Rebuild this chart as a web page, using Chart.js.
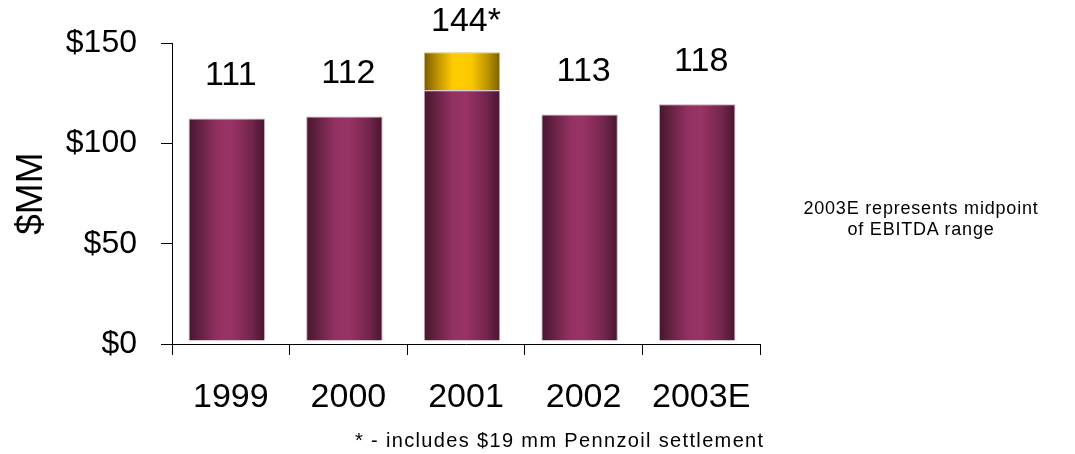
<!DOCTYPE html>
<html>
<head>
<meta charset="utf-8">
<script src="https://cdn.jsdelivr.net/npm/chart.js@4/dist/chart.umd.min.js"></script>
<style>
  html, body { margin: 0; padding: 0; background: #ffffff; }
  #wrap { position: relative; width: 1075px; height: 454px; overflow: hidden; font-family: "Liberation Sans", Arial, sans-serif; }
  #c { position: absolute; left: 0; top: 0; }
  .note { position: absolute; color: #000; white-space: nowrap; }
  #side { left: 790px; top: 198px; width: 262px; text-align: center; font-size: 18px; line-height: 21px; letter-spacing: 0.8px; }
  #foot { left: 355px; top: 430px; font-size: 20px; line-height: 20px; letter-spacing: 1.35px; }
</style>
</head>
<body>
<div id="wrap">
  <canvas id="c" width="1075" height="454"></canvas>
  <div class="note" id="side">2003E represents midpoint<br>of EBITDA range</div>
  <div class="note" id="foot">* - includes $19 mm Pennzoil settlement</div>
</div>
<script>
// ---- data ----
const categories = ["1999", "2000", "2001", "2002", "2003E"];
const baseEbitda = [111, 112, 125, 113, 118];
const settlement = [0, 0, 19, 0, 0];
const totalLabels = ["111", "112", "144*", "113", "118"];
const yTickValues = [0, 50, 100, 150];
const yAxisTitle = "$MM";

const FONT = "'Liberation Sans', Arial, sans-serif";
const BAR_PCT = 0.65;

function gradientFill(stops, fallback) {
  return function (c) {
    const chart = c.chart;
    const area = chart.chartArea;
    const xs = chart.scales && chart.scales.x;
    if (!area || !xs) return fallback;
    const xc = xs.getPixelForValue(c.dataIndex);
    const w = (xs.width / categories.length) * BAR_PCT;
    const g = chart.ctx.createLinearGradient(xc - w / 2, 0, xc + w / 2, 0);
    stops.forEach(s => g.addColorStop(s[0], s[1]));
    return g;
  };
}

const maroonStops = [[0, '#481530'], [0.12, '#5e1f3d'], [0.38, '#933162'], [0.55, '#993366'], [0.82, '#73264c'], [1, '#47152f']];
const goldStops = [[0, '#775a00'], [0.15, '#b38a00'], [0.38, '#ffcc00'], [0.62, '#fcc900'], [0.85, '#b89000'], [1, '#756000']];

const shiftPlugin = {
  id: 'shift',
  beforeDatasetsDraw(chart) { chart.ctx.save(); chart.ctx.translate(-4, -3); },
  afterDatasetsDraw(chart) { chart.ctx.restore(); }
};

const labelPlugin = {
  id: 'totals',
  afterDraw(chart) {
    const ctx = chart.ctx;
    const xs = chart.scales.x, ys = chart.scales.y;
    ctx.save();
    ctx.font = "34px " + FONT;
    ctx.fillStyle = '#000';
    ctx.textAlign = 'center';
    ctx.textBaseline = 'middle';
    categories.forEach((cat, i) => {
      const total = baseEbitda[i] + settlement[i];
      const x = xs.getPixelForValue(i);
      const y = Math.max(ys.getPixelForValue(total) - 46, 22);
      ctx.fillText(totalLabels[i], x, y);
    });
    ctx.restore();
  }
};

new Chart(document.getElementById('c'), {
  type: 'bar',
  data: {
    labels: categories,
    datasets: [
      {
        label: 'EBITDA',
        data: baseEbitda,
        backgroundColor: gradientFill(maroonStops, '#993366'),
        borderColor: '#c9a6b8',
        borderWidth: 1,
        barPercentage: BAR_PCT,
        categoryPercentage: 1
      },
      {
        label: 'Pennzoil settlement',
        data: settlement,
        backgroundColor: gradientFill(goldStops, '#ffcc00'),
        borderColor: '#d9c27a',
        borderWidth: 1,
        barPercentage: BAR_PCT,
        categoryPercentage: 1
      }
    ]
  },
  options: {
    responsive: false,
    animation: false,
    devicePixelRatio: 1,
    layout: { padding: { left: 0, right: 315, top: 43, bottom: 0 } },
    plugins: { legend: { display: false }, tooltip: { enabled: false } },
    scales: {
      x: {
        stacked: true,
        grid: { display: true, drawOnChartArea: false, drawTicks: true, tickLength: 11, offset: true, color: '#000', lineWidth: 1 },
        border: { display: true, color: '#000', width: 1 },
        ticks: { color: '#000', font: { family: FONT, size: 34 }, padding: 22, maxRotation: 0, autoSkip: false },
        afterFit(scale) { scale.height = 110; }
      },
      y: {
        stacked: true,
        min: 0,
        max: 150,
        afterBuildTicks(scale) { scale.ticks = yTickValues.map(v => ({ value: v })); },
        grid: { display: true, drawOnChartArea: false, drawTicks: true, tickLength: 11, color: '#000', lineWidth: 1 },
        border: { display: true, color: '#000', width: 1 },
        ticks: { color: '#000', font: { family: FONT, size: 32 }, padding: 24, callback: v => '$' + v },
        title: { display: true, text: yAxisTitle, color: '#000', font: { family: FONT, size: 37 }, padding: { top: 10, bottom: 0 } },
        afterFit(scale) { scale.width = 172; }
      }
    }
  },
  plugins: [shiftPlugin, labelPlugin]
});
</script>
</body>
</html>
